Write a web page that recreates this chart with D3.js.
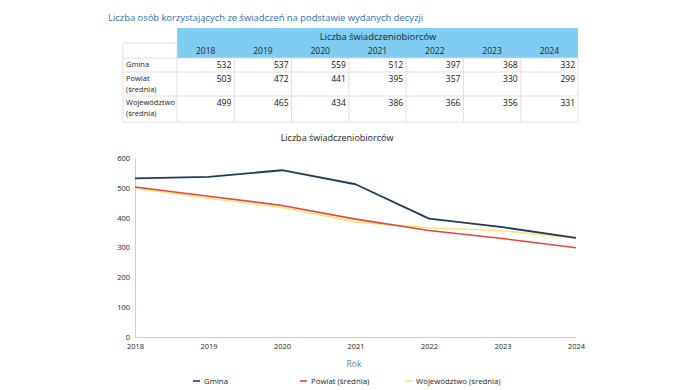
<!DOCTYPE html>
<html><head><meta charset="utf-8">
<script src="https://cdn.jsdelivr.net/npm/d3@7"></script>
<style>
body{margin:0;background:#fff;}
svg{display:block;font-family:"Open Sans","Noto Sans",sans-serif;}
</style></head>
<body><svg id="c" width="700" height="390"></svg>
<script>
const years = [2018, 2019, 2020, 2021, 2022, 2023, 2024];
const gmina = [532, 537, 559, 512, 397, 368, 332];
const powiat = [503, 472, 441, 395, 357, 330, 299];
const wojewodztwo = [499, 465, 434, 386, 366, 356, 331];
const seriesNames = ["Gmina", "Powiat (średnia)", "Województwo (średnia)"];
const rowLabels = [["Gmina"], ["Powiat", "(średnia)"], ["Województwo", "(średnia)"]];
const yTicks = [0, 100, 200, 300, 400, 500, 600];
const colors = ["#1d3b5e", "#e9443d", "#f3e777"];
const seriesData = [gmina, powiat, wojewodztwo];

const svg = d3.select("#c");

// Title
svg.append("text").attr("x", 108).attr("y", 21).attr("font-size", 9.4)
  .attr("fill", "#2f6db3").text("Liczba osób korzystających ze świadczeń na podstawie wydanych decyzji");

// Table
const colX = d3.scaleBand().domain(years).range([177, 578]);
const stubX0 = 123;
const rowsY = [58, 72, 96, 122];
const tbl = svg.append("g");
tbl.append("rect").attr("x", 177).attr("y", 28).attr("width", 401).attr("height", 30).attr("fill", "#7fcdf2");
tbl.append("text").attr("x", 378).attr("y", 40).attr("text-anchor", "middle").attr("font-size", 9.3)
  .attr("fill", "#222").text("Liczba świadczeniobiorców");
years.forEach(y => {
  tbl.append("text").attr("x", colX(y) + colX.bandwidth() / 2).attr("y", 54).attr("text-anchor", "middle")
    .attr("font-size", 8.5).attr("fill", "#222").text(y);
});
const gridC = "#d8d8d8";
[43, ...rowsY].forEach((yy, i) => {
  tbl.append("line").attr("x1", stubX0).attr("x2", i === 0 ? 177 : 578).attr("y1", yy).attr("y2", yy)
    .attr("stroke", gridC).attr("stroke-width", 0.8);
});
tbl.append("line").attr("x1", stubX0).attr("x2", stubX0).attr("y1", 43).attr("y2", 122).attr("stroke", gridC).attr("stroke-width", 0.8);
years.forEach(y => {
  tbl.append("line").attr("x1", colX(y)).attr("x2", colX(y)).attr("y1", 58).attr("y2", 122).attr("stroke", gridC).attr("stroke-width", 0.8);
});
tbl.append("line").attr("x1", 578).attr("x2", 578).attr("y1", 58).attr("y2", 122).attr("stroke", gridC).attr("stroke-width", 0.8);
tbl.append("line").attr("x1", 177).attr("x2", 177).attr("y1", 43).attr("y2", 58).attr("stroke", gridC).attr("stroke-width", 0.8);
rowLabels.forEach((lines, r) => {
  lines.forEach((l, k) => {
    tbl.append("text").attr("x", 126).attr("y", rowsY[r] + 9 + k * 11).attr("font-size", 7.5).attr("fill", "#222").text(l);
  });
  seriesData[r].forEach((v, i) => {
    tbl.append("text").attr("x", colX(years[i]) + colX.bandwidth() - 3).attr("y", rowsY[r] + 10)
      .attr("text-anchor", "end").attr("font-size", 8.5).attr("fill", "#111").text(v);
  });
});

// Chart
svg.append("text").attr("x", 337).attr("y", 141).attr("text-anchor", "middle").attr("font-size", 9)
  .attr("fill", "#222").text("Liczba świadczeniobiorców");

const x = d3.scaleLinear().domain([2018, 2024]).range([135, 576]);
const y = d3.scaleLinear().domain([0, 600]).range([337, 158]);

const yAxis = svg.append("g").attr("transform", "translate(135,0)")
  .call(d3.axisLeft(y).tickValues(yTicks).tickSize(0).tickPadding(5));
yAxis.select(".domain").attr("stroke", "#c9cbd6");
yAxis.selectAll("text").attr("font-size", 7.5).attr("fill", "#222").attr("font-family", "Open Sans, sans-serif");

const xAxis = svg.append("g").attr("transform", "translate(0,337)")
  .call(d3.axisBottom(x).tickValues(years).tickFormat(d3.format("d")).tickSize(0).tickPadding(7));
xAxis.select(".domain").attr("stroke", "#c9cbd6");
xAxis.selectAll("text").attr("font-size", 7.5).attr("fill", "#222").attr("font-family", "Open Sans, sans-serif");

const line = d3.line().x((d, i) => x(years[i])).y(d => y(d));
[2, 1, 0].forEach(s => {
  svg.append("path").datum(seriesData[s]).attr("d", line).attr("fill", "none")
    .attr("stroke", colors[s]).attr("stroke-width", s === 0 ? 1.8 : 1.6).attr("stroke-linejoin", "round");
});

svg.append("text").attr("x", 354).attr("y", 367).attr("text-anchor", "middle").attr("font-size", 8.5)
  .attr("fill", "#5b7fb3").text("Rok");

// Legend
const legX = [193, 300, 405];
seriesNames.forEach((n, i) => {
  svg.append("line").attr("x1", legX[i]).attr("x2", legX[i] + 7).attr("y1", 381).attr("y2", 381)
    .attr("stroke", colors[i]).attr("stroke-width", 1.6);
  svg.append("text").attr("x", legX[i] + 11).attr("y", 384).attr("font-size", 7.8).attr("fill", "#222").text(n);
});
</script></body></html>
